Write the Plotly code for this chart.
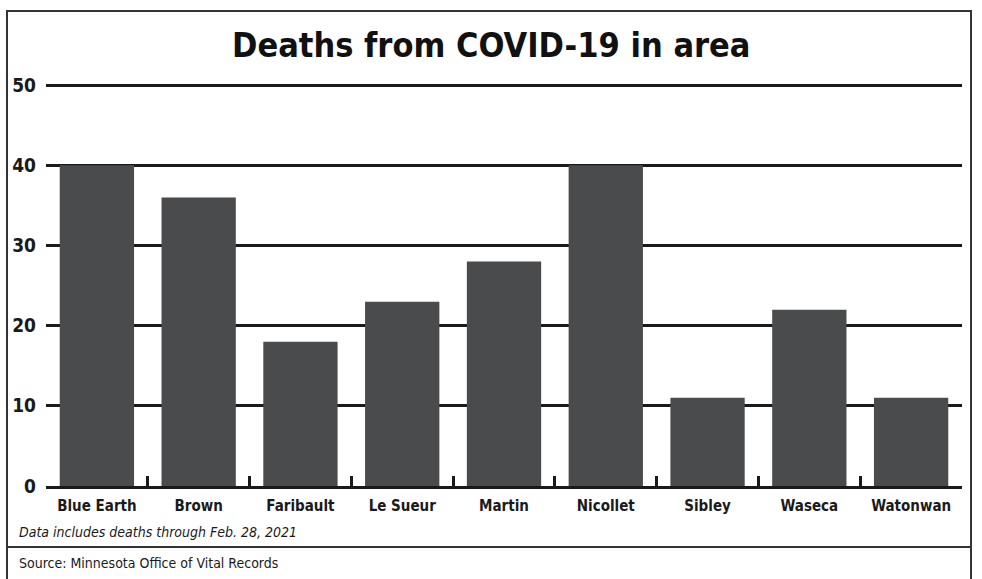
import plotly.graph_objects as go

# Counties and COVID-19 death counts
counties = ["Blue Earth", "Brown", "Faribault", "Le Sueur", "Martin",
            "Nicollet", "Sibley", "Waseca", "Watonwan"]
deaths = [40, 36, 18, 23, 28, 40, 11, 22, 11]
y_ticks = [0, 10, 20, 30, 40, 50]

title_text = "Deaths from COVID-19 in area"
note_text = "Data includes deaths through Feb. 28, 2021"
source_text = "Source: Minnesota Office of Vital Records"

W, H = 982, 579
L, R, T, B = 46, 20, 84, 93
PW, PH = W - L - R, H - T - B

FONT = ("Liberation Sans Narrow, Nimbus Sans Narrow, Arial Narrow, "
        "DejaVu Sans Condensed, sans-serif")
INK = "#1a1a1a"


def px_x(x):
    return (x - L) / PW


def px_y(y):
    return (H - B - y) / PH


fig = go.Figure(go.Bar(
    x=counties, y=deaths,
    marker=dict(color="#4a4b4d", line=dict(width=0)),
    hoverinfo="x+y",
))

fig.update_layout(
    width=W, height=H,
    margin=dict(l=L, r=R, t=T, b=B),
    paper_bgcolor="white", plot_bgcolor="white",
    bargap=0.27,
    showlegend=False,
    font=dict(family=FONT, color=INK),
    xaxis=dict(
        type="category",
        range=[-0.5, len(counties) - 0.5],
        showgrid=False,
        showline=True, linecolor=INK, linewidth=3,
        ticks="inside", tickson="boundaries", ticklen=10, tickwidth=2.5,
        tickcolor=INK,
        tickfont=dict(family=FONT, size=15, color=INK, weight="bold"),
        ticklabelstandoff=4,
    ),
    yaxis=dict(
        range=[0, 50.15],
        tickvals=y_ticks,
        showgrid=True, gridcolor=INK, gridwidth=3,
        zeroline=False, showline=False, ticks="",
        tickfont=dict(family=FONT, size=19, color=INK, weight="bold"),
        ticklabelstandoff=9,
    ),
)

# Title
fig.add_annotation(
    text="<b>" + title_text + "</b>", xref="paper", yref="paper",
    x=px_x(491), y=px_y(45), xanchor="center", yanchor="middle",
    showarrow=False, font=dict(family=FONT, size=34, color="#111111"),
)

# Data note and source line
fig.add_annotation(
    text="<i>" + note_text + "</i>", xref="paper", yref="paper",
    x=px_x(17), y=px_y(532), xanchor="left", yanchor="middle",
    showarrow=False, font=dict(family=FONT, size=14, color=INK),
)
fig.add_annotation(
    text=source_text, xref="paper", yref="paper",
    x=px_x(17), y=px_y(563), xanchor="left", yanchor="middle",
    showarrow=False, font=dict(family=FONT, size=14, color=INK),
)

# Outer frame and separator above the source line
frame = dict(color="#333333", width=2)
fig.add_shape(type="rect", xref="paper", yref="paper",
              x0=px_x(7), x1=px_x(971), y0=px_y(600), y1=px_y(11),
              line=frame, layer="above")
fig.add_shape(type="line", xref="paper", yref="paper",
              x0=px_x(7), x1=px_x(971), y0=px_y(547), y1=px_y(547),
              line=frame, layer="above")

fig.write_html("out.html")
